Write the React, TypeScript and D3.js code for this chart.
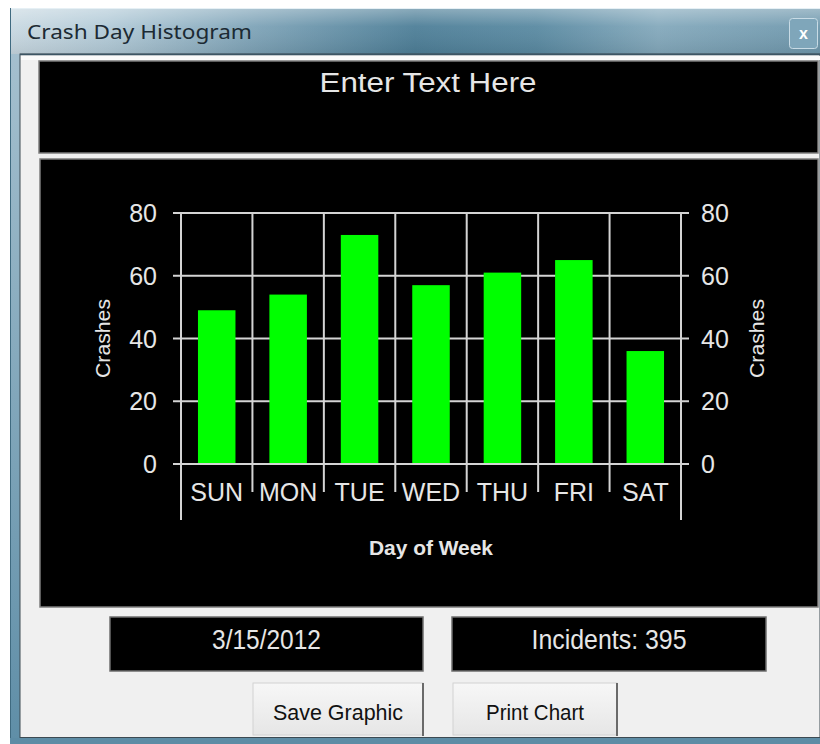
import React from "react";
import * as d3 from "d3";

const windowTitle = "Crash Day Histogram";
const headerText = "Enter Text Here";
const days = ["SUN", "MON", "TUE", "WED", "THU", "FRI", "SAT"];
const crashes = [49, 54, 73, 57, 61, 65, 36];
const yTicks = [0, 20, 40, 60, 80];
const yLabel = "Crashes";
const xLabel = "Day of Week";
const dateText = "3/15/2012";
const incidentsLabel = "Incidents: ";
const buttons = ["Save Graphic", "Print Chart"];

const W = 820;
const H = 744;

export default function App() {
  const plotL = 181;
  const plotR = 681;
  const plotT = 213;
  const plotB = 464;

  const x = d3
    .scaleBand<string>()
    .domain(days)
    .range([plotL, plotR])
    .paddingInner(0.475)
    .paddingOuter(0.2375);
  const step = x.step();
  const bw = x.bandwidth();
  const cellLeft = (d: string) => (x(d) as number) - (step - bw) / 2;
  const boundaries = [...days.map(cellLeft), plotR];

  const y = d3.scaleLinear().domain([0, 80]).range([plotB, plotT]);

  const total = d3.sum(crashes);
  const fontMain = "'Liberation Sans', Arial, sans-serif";
  const textCol = "#e6e6e6";
  const gridCol = "#d4d4d4";

  const buttonBoxes = [
    { x: 253, w: 170 },
    { x: 453, w: 164 },
  ];
  const infoBoxes = [
    { x: 110, w: 313, text: dateText, len: 109 },
    { x: 452, w: 314, text: incidentsLabel + total, len: 155 },
  ];

  return (
    <svg
      width={W}
      height={H}
      style={{ position: "absolute", left: 0, top: 0, display: "block" }}
    >
      <defs>
        <linearGradient id="titleGrad" x1="0" x2="1" y1="0" y2="0">
          <stop offset="0" stopColor="#c9d9e2" />
          <stop offset="0.12" stopColor="#b3cbd8" />
          <stop offset="0.3" stopColor="#7fa4b8" />
          <stop offset="0.5" stopColor="#4e7f98" />
          <stop offset="0.65" stopColor="#5a8aa2" />
          <stop offset="0.8" stopColor="#84a9bc" />
          <stop offset="1" stopColor="#6f98ad" />
        </linearGradient>
        <linearGradient id="titleShade" x1="0" x2="0" y1="0" y2="1">
          <stop offset="0" stopColor="#ffffff" stopOpacity="0.35" />
          <stop offset="0.4" stopColor="#ffffff" stopOpacity="0.05" />
          <stop offset="1" stopColor="#000000" stopOpacity="0.08" />
        </linearGradient>
        <linearGradient id="btnGrad" x1="0" x2="0" y1="0" y2="1">
          <stop offset="0" stopColor="#f7f7f7" />
          <stop offset="1" stopColor="#e6e6e6" />
        </linearGradient>
        <linearGradient id="frameGrad" x1="0" x2="0" y1="0" y2="1">
          <stop offset="0" stopColor="#a9c3d1" />
          <stop offset="1" stopColor="#5f8ea7" />
        </linearGradient>
      </defs>

      {/* page background */}
      <rect x={0} y={0} width={W} height={H} fill="#ffffff" />

      {/* window frame */}
      <rect x={10} y={8} width={W - 10} height={H - 8} fill="url(#frameGrad)" />
      <rect x={10} y={8} width={W - 10} height={46} fill="url(#titleGrad)" />
      <rect x={10} y={8} width={W - 10} height={46} fill="url(#titleShade)" />
      <line x1={10} x2={W} y1={8.5} y2={8.5} stroke="#e6f0f5" strokeWidth={1} />
      <line x1={10.5} x2={10.5} y1={8} y2={H} stroke="#3f6a80" strokeWidth={1} />

      {/* title */}
      <text
        x={27}
        y={39}
        fontFamily="'Noto Sans', 'Open Sans', sans-serif"
        fontSize={20}
        fill="#1c2a33"
        textLength={225}
        lengthAdjust="spacingAndGlyphs"
      >
        {windowTitle}
      </text>

      {/* close button */}
      <rect x={789.5} y={18.5} width={28} height={30} rx={3} fill="#7fa6ba" stroke="#c8dbe5" strokeWidth={1} />
      <text
        x={803.5}
        y={39}
        textAnchor="middle"
        fontFamily={fontMain}
        fontWeight="bold"
        fontSize={16}
        fill="#ffffff"
      >
        x
      </text>

      {/* client area */}
      <rect x={20} y={54} width={W - 20} height={684} fill="#f0f0f0" stroke="#3c4a52" strokeWidth={1} />
      <line x1={20} x2={W} y1={54.5} y2={54.5} stroke="#3c5564" strokeWidth={1.5} />
      <rect x={21} y={56} width={W - 21} height={4} fill="#fafafa" />

      {/* header black box */}
      <rect x={39} y={61} width={779} height={92} fill="#000" stroke="#7c7c7c" strokeWidth={1.5} />
      <text
        x={428}
        y={92}
        textAnchor="middle"
        fontFamily={fontMain}
        fontSize={27}
        fill={textCol}
        textLength={217}
        lengthAdjust="spacingAndGlyphs"
      >
        {headerText}
      </text>

      {/* chart black box */}
      <rect x={40} y={159} width={778} height={448} fill="#000" stroke="#7c7c7c" strokeWidth={1.5} />

      {/* horizontal grid lines */}
      {yTicks.map((t) => (
        <line
          key={"h" + t}
          x1={plotL - 8}
          x2={plotR + 8}
          y1={y(t)}
          y2={y(t)}
          stroke={gridCol}
          strokeWidth={2}
        />
      ))}

      {/* vertical grid lines */}
      {boundaries.map((bx, i) => {
        const isAxis = i === 0 || i === boundaries.length - 1;
        return (
          <line
            key={"v" + i}
            x1={bx}
            x2={bx}
            y1={plotT}
            y2={isAxis ? 520 : 492}
            stroke={gridCol}
            strokeWidth={2}
          />
        );
      })}

      {/* bars */}
      {days.map((d, i) => (
        <rect
          key={d}
          x={x(d)}
          y={y(crashes[i])}
          width={bw}
          height={plotB - y(crashes[i]) - 1}
          fill="#00ff00"
        />
      ))}

      {/* left y tick labels */}
      {yTicks.map((t) => (
        <text
          key={"ly" + t}
          x={157}
          y={y(t)}
          dy="0.36em"
          textAnchor="end"
          fontFamily={fontMain}
          fontSize={25}
          fill={textCol}
        >
          {t}
        </text>
      ))}

      {/* right y tick labels */}
      {yTicks.map((t) => (
        <text
          key={"ry" + t}
          x={701}
          y={y(t)}
          dy="0.36em"
          textAnchor="start"
          fontFamily={fontMain}
          fontSize={25}
          fill={textCol}
        >
          {t}
        </text>
      ))}

      {/* x tick labels */}
      {days.map((d) => (
        <text
          key={"xl" + d}
          x={(x(d) as number) + bw / 2}
          y={501}
          textAnchor="middle"
          fontFamily={fontMain}
          fontSize={25}
          fill={textCol}
        >
          {d}
        </text>
      ))}

      {/* axis titles */}
      <text
        transform={`translate(110, ${(plotT + plotB) / 2}) rotate(-90)`}
        textAnchor="middle"
        fontFamily={fontMain}
        fontSize={20}
        fill={textCol}
        textLength={79}
        lengthAdjust="spacingAndGlyphs"
      >
        {yLabel}
      </text>
      <text
        transform={`translate(764, ${(plotT + plotB) / 2}) rotate(-90)`}
        textAnchor="middle"
        fontFamily={fontMain}
        fontSize={20}
        fill={textCol}
        textLength={79}
        lengthAdjust="spacingAndGlyphs"
      >
        {yLabel}
      </text>
      <text
        x={(plotL + plotR) / 2}
        y={555}
        textAnchor="middle"
        fontFamily={fontMain}
        fontWeight="bold"
        fontSize={20}
        fill={textCol}
        textLength={124}
        lengthAdjust="spacingAndGlyphs"
      >
        {xLabel}
      </text>

      {/* info boxes */}
      {infoBoxes.map((b, i) => (
        <g key={"ib" + i}>
          <rect x={b.x} y={617} width={b.w} height={54} fill="#000" stroke="#6e6e6e" strokeWidth={1.5} />
          <text
            x={b.x + b.w / 2}
            y={649}
            textAnchor="middle"
            fontFamily={fontMain}
            fontSize={27}
            fill={textCol}
            textLength={b.len}
            lengthAdjust="spacingAndGlyphs"
          >
            {b.text}
          </text>
        </g>
      ))}

      {/* buttons */}
      {buttons.map((label, i) => {
        const b = buttonBoxes[i];
        return (
          <g key={"btn" + i}>
            <rect x={b.x} y={683} width={b.w} height={52} fill="url(#btnGrad)" stroke="#d2d2d2" strokeWidth={1} />
            <line x1={b.x + b.w} x2={b.x + b.w} y1={683} y2={736} stroke="#6a6a6a" strokeWidth={2} />
            <text
              x={b.x + b.w / 2}
              y={720}
              textAnchor="middle"
              fontFamily={fontMain}
              fontSize={22}
              fill="#111"
              textLength={i === 0 ? 130 : 98}
              lengthAdjust="spacingAndGlyphs"
            >
              {label}
            </text>
          </g>
        );
      })}

      {/* bottom frame */}
      <rect x={10} y={738} width={W - 10} height={6} fill="#5d8ca5" />
      <line x1={20} x2={W} y1={737.5} y2={737.5} stroke="#3c4a52" strokeWidth={1} />
    </svg>
  );
}
